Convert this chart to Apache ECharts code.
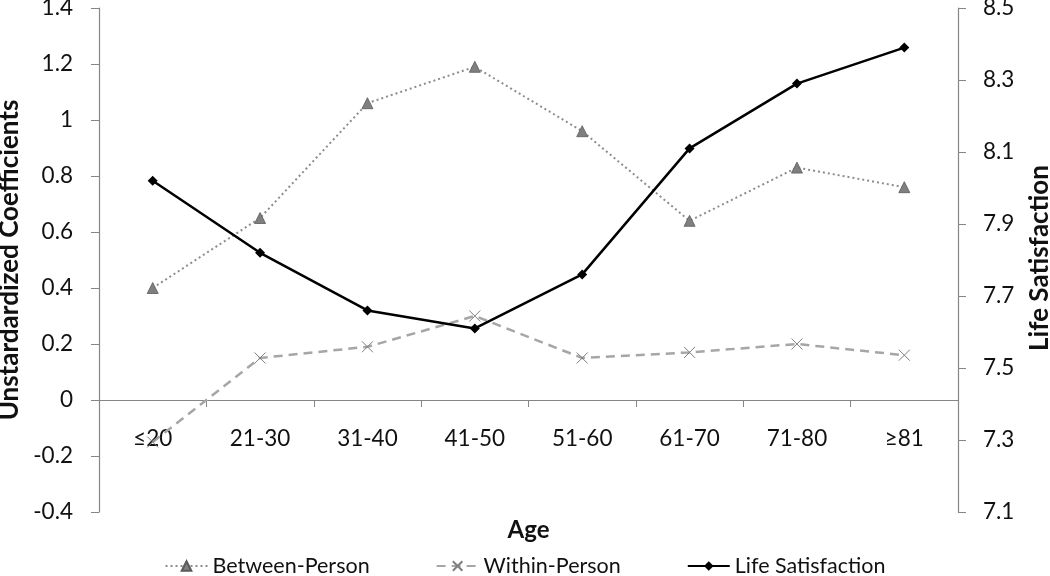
<!DOCTYPE html>
<html>
<head>
<meta charset="utf-8">
<script src="https://cdn.jsdelivr.net/npm/echarts@6/dist/echarts.min.js"></script>
<style>
html,body{margin:0;padding:0;background:#fff;}
#chart{width:1050px;height:576px;}
</style>
</head>
<body>
<div id="chart"></div>
<script>
const categories = ['≤20','21-30','31-40','41-50','51-60','61-70','71-80','≥81'];
const betweenPerson = [0.40, 0.65, 1.06, 1.19, 0.96, 0.64, 0.83, 0.76];
const withinPerson = [-0.15, 0.15, 0.19, 0.30, 0.15, 0.17, 0.20, 0.16];
const lifeSatisfaction = [8.02, 7.82, 7.66, 7.61, 7.76, 8.11, 8.29, 8.39];

const FONT = 'Lato, "Open Sans", sans-serif';
const AXIS_GRAY = '#868686';
const chart = echarts.init(document.getElementById('chart'));
const fmt1 = v => String(parseFloat(v.toFixed(1)));
chart.setOption({
  animation: false,
  backgroundColor: '#fff',
  textStyle: {fontFamily: FONT},
  grid: {left: 99, right: 92, top: 8, bottom: 64, containLabel: false, outerBoundsMode: 'none'},
  legend: {
    bottom: -6,
    left: 'center',
    itemGap: 66,
    itemWidth: 42,
    itemHeight: 12,
    textStyle: {fontFamily: FONT, fontSize: 21.5, color: '#111'},
    data: ['Between-Person', 'Within-Person', 'Life Satisfaction']
  },
  graphic: [{
    type: 'text',
    x: 1040,
    y: 258,
    rotation: Math.PI / 2,
    style: {
      text: 'Life Satisfaction',
      align: 'center',
      verticalAlign: 'middle',
      font: 'bold 26px Lato, "Open Sans", sans-serif',
      fill: '#111'
    }
  }],
  xAxis: {
    type: 'category',
    data: categories,
    boundaryGap: true,
    name: 'Age',
    nameLocation: 'middle',
    nameGap: 6,
    nameTextStyle: {fontFamily: FONT, fontSize: 24, fontWeight: 'bold', color: '#111'},
    axisLine: {onZero: true, onZeroAxisIndex: 0, lineStyle: {color: AXIS_GRAY, width: 1.2}},
    axisTick: {show: true, interval: 0, alignWithLabel: false, length: 7, lineStyle: {color: AXIS_GRAY}},
    axisLabel: {fontFamily: FONT, fontSize: 22.5, color: '#111', margin: -85, interval: 0},
    splitLine: {show: false}
  },
  yAxis: [
    {
      type: 'value',
      min: -0.4, max: 1.4, interval: 0.2,
      name: 'Unstardardized Coefficients',
      nameLocation: 'middle',
      nameRotate: 90,
      nameGap: 72,
      nameTextStyle: {fontFamily: FONT, fontSize: 26, fontWeight: 'bold', color: '#111'},
      axisLine: {show: true, lineStyle: {color: AXIS_GRAY, width: 1.2}},
      axisTick: {show: true, length: 8, lineStyle: {color: AXIS_GRAY}},
      axisLabel: {fontFamily: FONT, fontSize: 22.5, color: '#111', margin: 26, formatter: fmt1},
      splitLine: {show: false}
    },
    {
      type: 'value',
      position: 'right',
      min: 7.1, max: 8.5, interval: 0.2,
      axisLine: {show: true, lineStyle: {color: AXIS_GRAY, width: 1.2}},
      axisTick: {show: true, length: 8, lineStyle: {color: AXIS_GRAY}},
      axisLabel: {fontFamily: FONT, fontSize: 22.5, color: '#111', margin: 25, formatter: v => v.toFixed(1)},
      splitLine: {show: false}
    }
  ],
  series: [
    {
      name: 'Between-Person',
      type: 'line',
      yAxisIndex: 0,
      data: betweenPerson,
      symbol: 'triangle',
      symbolSize: 11,
      itemStyle: {color: '#7f7f7f', borderColor: '#5a5a5a', borderWidth: 0.8},
      lineStyle: {color: '#8c8c8c', width: 2, type: [2, 3]},
      z: 2
    },
    {
      name: 'Within-Person',
      type: 'line',
      yAxisIndex: 0,
      data: withinPerson,
      symbol: 'path://M0,0L10,10M10,0L0,10',
      symbolSize: 11,
      itemStyle: {color: 'rgba(0,0,0,0)', borderColor: '#7f7f7f', borderWidth: 1},
      lineStyle: {color: '#a6a6a6', width: 2.5, type: [9, 6]},
      z: 3
    },
    {
      name: 'Life Satisfaction',
      type: 'line',
      yAxisIndex: 1,
      data: lifeSatisfaction,
      symbol: 'diamond',
      symbolSize: 10,
      itemStyle: {color: '#000'},
      lineStyle: {color: '#000', width: 2.5},
      z: 4
    }
  ]
});
</script>
</body>
</html>
